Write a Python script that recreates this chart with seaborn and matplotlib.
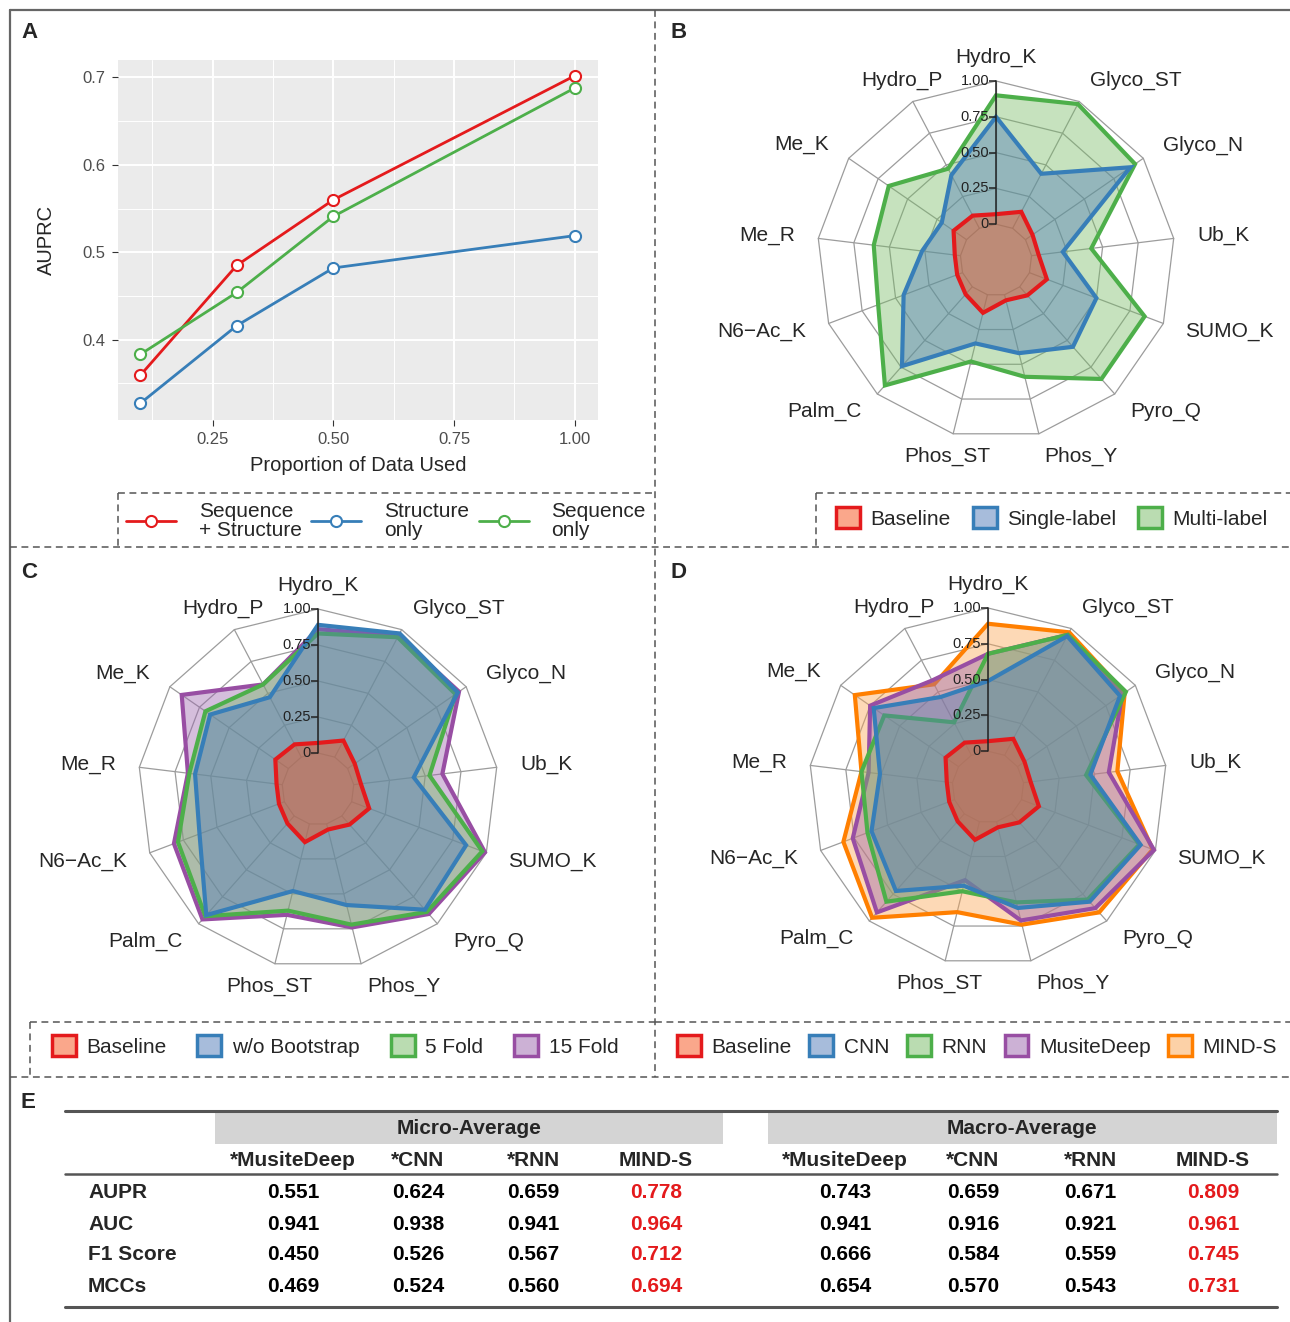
import numpy as np
import pandas as pd
import seaborn as sns
import matplotlib
matplotlib.use('Agg')
import matplotlib.pyplot as plt
from matplotlib.lines import Line2D
from matplotlib.patches import Patch, Rectangle
from matplotlib.colors import to_rgba

# ---- data ----
proportions = [0.1, 0.3, 0.5, 1.0]
seq_struct = [0.359, 0.485, 0.560, 0.702]
struct_only = [0.327, 0.416, 0.482, 0.519]
seq_only = [0.383, 0.454, 0.541, 0.688]

categories = ['Hydro_K', 'Glyco_ST', 'Glyco_N', 'Ub_K', 'SUMO_K', 'Pyro_Q', 'Phos_Y',
              'Phos_ST', 'Palm_C', 'N6\u2212Ac_K', 'Me_R', 'Me_K', 'Hydro_P']
baseline = [0.07, 0.13, 0.06, 0.05, 0.13, 0.08, 0.04, 0.13, 0.07, 0.04, 0.04, 0.11, 0.10]

single_label = [0.75, 0.43, 0.89, 0.22, 0.50, 0.56, 0.42, 0.35, 0.74, 0.44, 0.27, 0.21, 0.42]
multi_label = [0.90, 0.98, 0.93, 0.42, 0.86, 0.86, 0.59, 0.48, 0.92, 0.63, 0.61, 0.66, 0.47]

wo_bootstrap = [0.89, 0.97, 0.93, 0.42, 0.85, 0.87, 0.58, 0.48, 0.92, 0.63, 0.61, 0.66, 0.47]
fold5 = [0.83, 0.94, 0.91, 0.53, 0.97, 0.89, 0.72, 0.62, 0.93, 0.79, 0.65, 0.70, 0.57]
fold15 = [0.86, 0.95, 0.94, 0.62, 0.99, 0.91, 0.74, 0.65, 0.96, 0.82, 0.66, 0.90, 0.57]

cnn = [0.49, 0.94, 0.87, 0.47, 0.89, 0.82, 0.62, 0.46, 0.72, 0.62, 0.51, 0.72, 0.46]
rnn = [0.68, 0.95, 0.92, 0.44, 0.88, 0.80, 0.58, 0.50, 0.82, 0.65, 0.64, 0.63, 0.26]
musitedeep = [0.68, 0.95, 0.89, 0.60, 0.99, 0.88, 0.71, 0.42, 0.92, 0.76, 0.59, 0.75, 0.59]
minds = [0.89, 0.97, 0.91, 0.66, 0.98, 0.92, 0.74, 0.65, 0.97, 0.83, 0.64, 0.88, 0.56]

table_metrics = ['AUPR', 'AUC', 'F1 Score', 'MCCs']
table_models = ['*MusiteDeep', '*CNN', '*RNN', 'MIND-S']
micro_values = [[0.551, 0.624, 0.659, 0.778],
                [0.941, 0.938, 0.941, 0.964],
                [0.450, 0.526, 0.567, 0.712],
                [0.469, 0.524, 0.560, 0.694]]
macro_values = [[0.743, 0.659, 0.671, 0.809],
                [0.941, 0.916, 0.921, 0.961],
                [0.666, 0.584, 0.559, 0.745],
                [0.654, 0.570, 0.543, 0.731]]

# ---- style ----
RED, BLUE, GREEN, PURPLE, ORANGE = '#E41A1C', '#377EB8', '#4DAF4A', '#984EA3', '#FF7F00'
FILL = {RED: '#F75119', BLUE: '#517BB9', GREEN: '#77BB65', PURPLE: '#9B65AD', ORANGE: '#FBA551'}

sns.set_theme(style='white')
plt.rcParams['font.family'] = ['Liberation Sans', 'DejaVu Sans']

W, H = 1290, 1322
fig = plt.figure(figsize=(W / 100, H / 100), dpi=100)

# overlay in pixel coordinates for frame lines, labels and the table
ov = fig.add_axes([0, 0, 1, 1])
ov.set_xlim(0, W)
ov.set_ylim(H, 0)
ov.axis('off')

dash = dict(color='#555555', lw=1.1, ls=(0, (4.5, 3)))
solid = dict(color='#666666', lw=1.6)
ov.plot([10, W], [10, 10], **solid)
ov.plot([10, 10], [10, H], **solid)
for xs, ys in [([655, 655], [10, 1077]), ([10, W], [547, 547]), ([10, W], [1077, 1077]),
               ([118, 118], [493, 547]), ([118, 655], [493, 493]),
               ([816, 816], [493, 547]), ([816, W], [493, 493]),
               ([30, 30], [1022, 1077]), ([30, 655], [1022, 1022]),
               ([655, W], [1022, 1022])]:
    ov.plot(xs, ys, **dash)

for letter, x, y in [('A', 21, 33), ('B', 670, 33), ('C', 21, 572), ('D', 670, 572), ('E', 21, 1103)]:
    ov.text(x, y, letter, fontsize=16, fontweight='bold', va='center', ha='left')

# ---- panel A ----
axA = fig.add_axes([118 / W, 1 - 420 / H, 480 / W, 360 / H])
names_a = ['Sequence\n+ Structure', 'Structure\nonly', 'Sequence\nonly']
df = pd.DataFrame({
    'prop': proportions * 3,
    'auprc': seq_struct + struct_only + seq_only,
    'model': [names_a[0]] * 4 + [names_a[1]] * 4 + [names_a[2]] * 4,
})
sns.lineplot(data=df, x='prop', y='auprc', hue='model', hue_order=names_a,
             palette=[RED, BLUE, GREEN], marker='o', markersize=8, linewidth=2,
             errorbar=None, legend=False, ax=axA)
for ln in axA.lines:
    ln.set_markerfacecolor('white')
    ln.set_markeredgecolor(ln.get_color())
    ln.set_markeredgewidth(1.5)
axA.set_facecolor('#EBEBEB')
for sp in axA.spines.values():
    sp.set_visible(False)
axA.set_xlim(0.054, 1.048)
axA.set_ylim(0.308, 0.72)
axA.set_xticks([0.25, 0.5, 0.75, 1.0])
axA.set_xticklabels(['0.25', '0.50', '0.75', '1.00'])
axA.set_yticks([0.4, 0.5, 0.6, 0.7])
axA.set_yticklabels(['0.4', '0.5', '0.6', '0.7'])
axA.set_xticks([0.125, 0.375, 0.625, 0.875], minor=True)
axA.set_yticks([0.35, 0.45, 0.55, 0.65], minor=True)
axA.grid(which='major', color='white', lw=1.4)
axA.grid(which='minor', color='white', lw=0.7)
axA.set_axisbelow(True)
axA.tick_params(which='major', length=4, width=0.8, color='#333333', labelcolor='#4D4D4D',
                labelsize=12, direction='out', left=True, bottom=True, pad=5)
axA.tick_params(which='minor', length=0)
axA.set_xlabel('Proportion of Data Used', fontsize=14.5, labelpad=6)
axA.set_ylabel('AUPRC', fontsize=14.5, labelpad=19)

handles_a = [Line2D([], [], color=c, lw=2, marker='o', ms=8, mfc='white', mec=c, mew=1.5)
             for c in [RED, BLUE, GREEN]]
legA = fig.legend(handles_a, names_a, loc='center', bbox_to_anchor=(386 / W, 1 - 521 / H),
                  ncol=3, frameon=False, fontsize=15, handlelength=2.4, handletextpad=1.1,
                  columnspacing=0.45)
for t in legA.get_texts():
    t.set_linespacing(1.05)

# ---- radar panels ----
theta = np.linspace(0, 2 * np.pi, len(categories), endpoint=False)
theta_c = np.append(theta, theta[0])
label_ha = ['center', 'left', 'left', 'left', 'left', 'left', 'left',
            'center', 'right', 'right', 'right', 'right', 'center']


def radar(cx, cy, R, series, colors):
    ax = fig.add_axes([(cx - R) / W, 1 - (cy + R) / H, 2 * R / W, 2 * R / H], projection='polar')
    ax.set_theta_zero_location('N')
    ax.set_theta_direction(-1)
    ax.set_ylim(0, 1)
    ax.set_rorigin(-0.25)
    ax.axis('off')
    levels = [0, 0.25, 0.5, 0.75, 1.0]
    for lev in levels:
        ax.plot(theta_c, [lev] * len(theta_c), color='#9C9C9C', lw=0.9, zorder=1, clip_on=False)
    for t in theta:
        ax.plot([t, t], [0, 1], color='#9C9C9C', lw=0.9, zorder=1, clip_on=False)
    for vals, col in zip(series, colors):
        vc = np.append(vals, vals[0])
        ax.fill(theta_c, vc, facecolor=to_rgba(FILL[col], 0.42), edgecolor=col, lw=3,
                joinstyle='miter', zorder=2, clip_on=False)
    ax.plot([0, 0], [0, 1], color='#222222', lw=1.1, zorder=5, clip_on=False)
    ax.plot([0] * 5, levels, ls='none', marker=0, ms=5, mew=1.1, color='#222222',
            zorder=5, clip_on=False)
    for lev, txt in zip(levels, ['0', '0.25', '0.50', '0.75', '1.00']):
        ax.annotate(txt, xy=(0, lev), xytext=(-5, 0), textcoords='offset points',
                    ha='right', va='center', fontsize=10.5, color='#222222', zorder=6)
    for t, name, ha in zip(theta, categories, label_ha):
        ax.text(t, 1.165, name, ha=ha, va='center', fontsize=15)
    return ax


def patch_legend(labels, colors, x, y, spacing):
    hs = [Patch(facecolor=to_rgba(FILL[c], 0.5), edgecolor=c, linewidth=2.5) for c in colors]
    fig.legend(hs, labels, loc='center', bbox_to_anchor=(x / W, 1 - y / H), ncol=len(labels),
               frameon=False, fontsize=15, handlelength=1.15, handleheight=1.15,
               handletextpad=0.5, columnspacing=spacing)


radar(996, 260, 179, [multi_label, single_label, baseline], [GREEN, BLUE, RED])
patch_legend(['Baseline', 'Single-label', 'Multi-label'], [RED, BLUE, GREEN], 1052, 518, 1.05)

radar(318, 789, 180, [fold15, fold5, wo_bootstrap, baseline], [PURPLE, GREEN, BLUE, RED])
patch_legend(['Baseline', 'w/o Bootstrap', '5 Fold', '15 Fold'], [RED, BLUE, GREEN, PURPLE],
             335, 1046, 1.5)

radar(988, 787, 179, [minds, musitedeep, rnn, cnn, baseline], [ORANGE, PURPLE, GREEN, BLUE, RED])
patch_legend(['Baseline', 'CNN', 'RNN', 'MusiteDeep', 'MIND-S'],
             [RED, BLUE, GREEN, PURPLE, ORANGE], 977, 1046, 0.85)

# ---- panel E table ----
col_x = [293, 418, 533, 656, 845, 973, 1090, 1213]
ov.add_patch(Rectangle((215, 1113), 508, 31, color='#D4D4D4', lw=0))
ov.add_patch(Rectangle((768, 1113), 509, 31, color='#D4D4D4', lw=0))
ov.plot([65, 1277], [1111, 1111], color='#555555', lw=2.2)
ov.plot([65, 1277], [1174, 1174], color='#555555', lw=1.8)
ov.plot([65, 1277], [1307, 1307], color='#555555', lw=2.2)
ov.text(469, 1129, 'Micro-Average', ha='center', va='center', fontsize=15, fontweight='bold')
ov.text(1022, 1129, 'Macro-Average', ha='center', va='center', fontsize=15, fontweight='bold')
for j, m in enumerate(table_models * 2):
    ov.text(col_x[j], 1160, m, ha='center', va='center', fontsize=15, fontweight='bold')
row_y = [1193, 1224, 1255, 1286]
for i, metric in enumerate(table_metrics):
    ov.text(88, row_y[i], metric, ha='left', va='center', fontsize=15, fontweight='bold')
    for j, v in enumerate(micro_values[i] + macro_values[i]):
        ov.text(col_x[j], row_y[i], f'{v:.3f}', ha='center', va='center', fontsize=15,
                fontweight='bold', color=RED if j % 4 == 3 else 'black')

fig.savefig('out.png', dpi=100)
